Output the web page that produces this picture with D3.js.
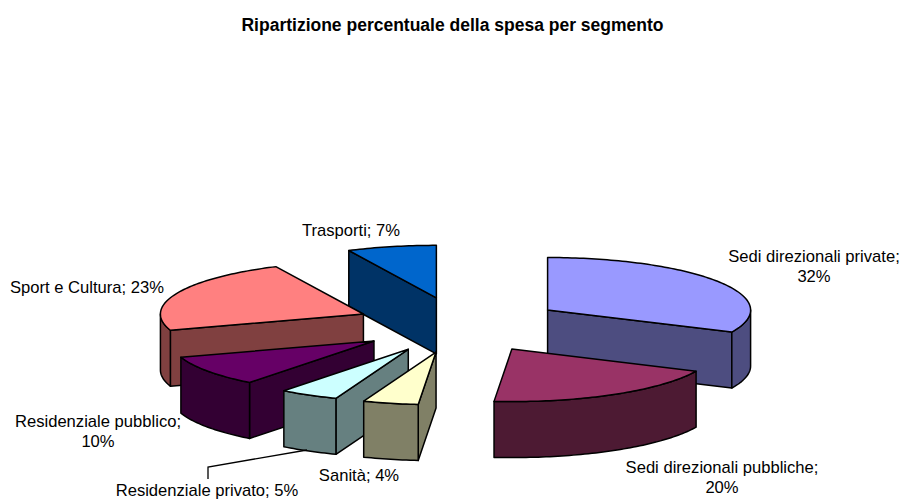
<!DOCTYPE html>
<html><head><meta charset="utf-8">
<script src="https://cdn.jsdelivr.net/npm/d3@7"></script>
<style>html,body{margin:0;padding:0;background:#fff}svg{display:block}text{font-family:"Liberation Sans",Arial,sans-serif;fill:#000}</style>
</head><body><svg id="c" width="901" height="500"></svg>
<script>
const categories = ["Sedi direzionali private","Sedi direzionali pubbliche","Sanità","Residenziale privato","Residenziale pubblico","Sport e Cultura","Trasporti"];
const values = [31.9,19.5,4.4,4.7,9.5,22.9,7.1];
const topColors = ["#9999FF","#993366","#FFFFCC","#CCFFFF","#660066","#FF8080","#0066CC"];
const titleText = "Ripartizione percentuale della spesa per segmento";

const cx=459.5, cy=325, rx=203, ry=52.5, depth=56, explodeX=0.515, explodeY=0.53;
const svg=d3.select("#c");
const px=d3.scaleLinear().domain([-1,1]).range([cx-rx,cx+rx]);
const py=d3.scaleLinear().domain([-1,1]).range([cy-ry,cy+ry]);
const darken=c=>{const k=d3.rgb(c);return d3.rgb(k.r/2,k.g/2,k.b/2).formatHex();};
const arcs=d3.pie().sort(null).startAngle(0).endAngle(2*Math.PI)(values);
const line=d3.line();
const slices=arcs.map((d,i)=>{
  const m=(d.startAngle+d.endAngle)/2;
  return {i,a0:d.startAngle,a1:d.endAngle,ox:explodeX*Math.sin(m),oy:-explodeY*Math.cos(m)};
});
function pt(s,a,r=1,dz=0){return [px(s.ox+r*Math.sin(a)),py(s.oy-r*Math.cos(a))+dz];}
function arcPts(s,a0,a1,dz=0){const n=Math.max(2,Math.ceil((a1-a0)/0.02));return d3.range(n+1).map(k=>pt(s,a0+(a1-a0)*k/n,1,dz));}
const order=slices.slice().sort((p,q)=>p.oy-q.oy);
const stroke={stroke:"#000","stroke-width":1.5,"stroke-linejoin":"round"};
function shape(pts,fill){const p=svg.append("path").attr("d",line(pts)+"Z").attr("fill",fill);Object.entries(stroke).forEach(([k,v])=>p.attr(k,v));}
order.forEach(s=>{
  const top=topColors[s.i], side=darken(top);
  if(Math.sin(s.a0)<-1e-6){shape([pt(s,0,0),pt(s,s.a0),pt(s,s.a0,1,depth),pt(s,0,0,depth)],side);}
  if(Math.sin(s.a1)>1e-6){shape([pt(s,0,0),pt(s,s.a1),pt(s,s.a1,1,depth),pt(s,0,0,depth)],side);}
  const f0=Math.max(s.a0,Math.PI/2), f1=Math.min(s.a1,3*Math.PI/2);
  if(f1>f0){shape(arcPts(s,f0,f1).concat(arcPts(s,f0,f1,depth).reverse()),side);}
  shape([pt(s,0,0)].concat(arcPts(s,s.a0,s.a1)),top);
});
svg.append("path").attr("d",line([[208,479],[208,467],[307,450]])).attr("fill","none").attr("stroke","#000").attr("stroke-width",1.3);
svg.append("text").attr("x",452.5).attr("y",31).attr("text-anchor","middle").attr("font-size",17.5).attr("font-weight","bold").text(titleText);
const labelLines=[["Sedi direzionali private;","32%"],["Sedi direzionali pubbliche;","20%"],["Sanità; 4%"],["Residenziale privato; 5%"],["Residenziale pubblico;","10%"],["Sport e Cultura; 23%"],["Trasporti; 7%"]];
const labelX=[814,722,359,207,98,87,351];
const labelY=[261.5,473,481,496.2,427,293,236];
labelLines.forEach((ls,i)=>ls.forEach((t,j)=>svg.append("text").attr("x",labelX[i]).attr("y",labelY[i]+j*20).attr("text-anchor","middle").attr("font-size",16.6).text(t)));
</script></body></html>
